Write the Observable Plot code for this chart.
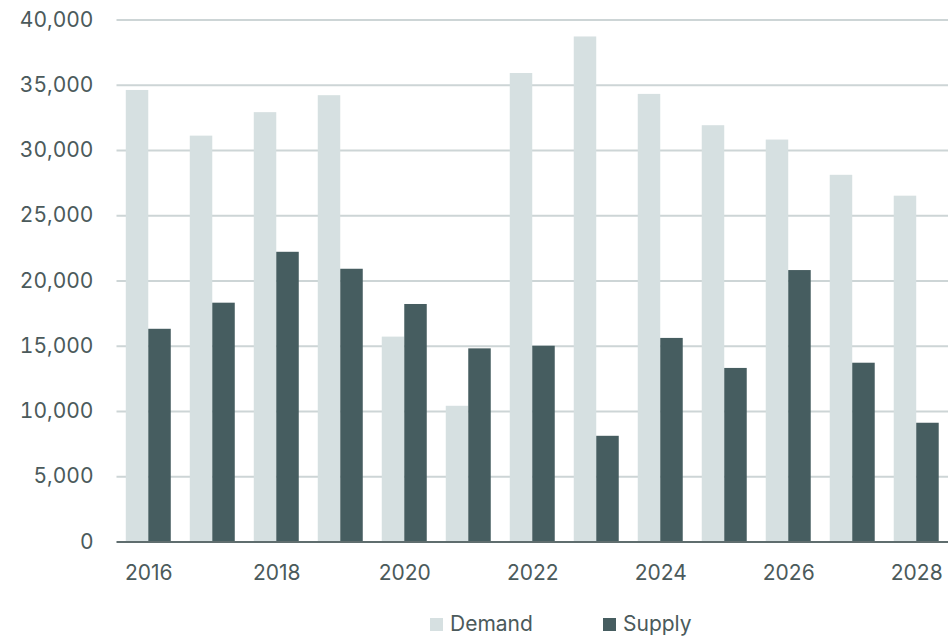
<!DOCTYPE html>
<html>
<head>
<meta charset="utf-8">
<script src="https://cdn.jsdelivr.net/npm/d3@7"></script>
<script src="https://cdn.jsdelivr.net/npm/@observablehq/plot@0.6"></script>
<style>
  html, body { margin: 0; padding: 0; background: #fff; }
  #chart { width: 948px; }
  .legend { display: flex; align-items: center; margin: 14px 0 0 430px; font-family: Inter, "DejaVu Sans", sans-serif; font-size: 21px; color: #4b5a5b; line-height: 24px; }
  .legend .item { display: flex; align-items: center; width: 173px; }
  .legend .sw { width: 13px; height: 13px; margin-right: 7px; }
</style>
</head>
<body>
<div id="chart"></div>
<script>
// Annual demand vs supply, 2016–2028
const years = [2016, 2017, 2018, 2019, 2020, 2021, 2022, 2023, 2024, 2025, 2026, 2027, 2028];
const demand = [34600, 31100, 32900, 34200, 15700, 10400, 35900, 38700, 34300, 31900, 30800, 28100, 26500];
const supply = [16300, 18300, 22200, 20900, 18200, 14800, 15000, 8100, 15600, 13300, 20800, 13700, 9100];
const series = ["Demand", "Supply"];
const colors = ["#d6e0e1", "#465d60"];
const yTicks = [0, 5000, 10000, 15000, 20000, 25000, 30000, 35000, 40000];

const demandRows = years.map((year, i) => ({year, series: "Demand", value: demand[i]}));
const supplyRows = years.map((year, i) => ({year, series: "Supply", value: supply[i]}));

// each year band is 45px wide; the two series share it side by side
const half = 22.5;

const chart = Plot.plot({
  width: 948,
  height: 598,
  marginLeft: 116.5,
  marginRight: 0,
  marginTop: 19.5,
  marginBottom: 56.5,
  style: {fontFamily: "Inter, 'DejaVu Sans', sans-serif", fontSize: "21px", color: "#4b5a5b", background: "#fff"},
  x: {
    type: "band",
    domain: years,
    paddingInner: 0.297,
    paddingOuter: 0.145,
    round: false,
    label: null,
    tickSize: 0,
    tickPadding: 23,
    tickFormat: d => (d % 2 === 0 ? String(d) : "")
  },
  y: {
    domain: [0, 40000],
    ticks: yTicks,
    tickFormat: d3.format(","),
    tickSize: 0,
    tickPadding: 23.5,
    label: null
  },
  color: {domain: series, range: colors},
  marks: [
    Plot.ruleY(yTicks.filter(d => d > 0), {stroke: "#cdd5d6", strokeWidth: 2}),
    Plot.barY(demandRows, {x: "year", y: "value", fill: "series", insetRight: half}),
    Plot.barY(supplyRows, {x: "year", y: "value", fill: "series", insetLeft: half}),
    Plot.ruleY([0], {stroke: "#5f6d6e", strokeWidth: 2})
  ]
});
document.getElementById("chart").append(chart);

// Legend row below the chart
const legend = d3.select("body").append("div").attr("class", "legend");
series.forEach((name, i) => {
  const item = legend.append("div").attr("class", "item");
  item.append("div").attr("class", "sw").style("background", colors[i]);
  item.append("span").text(name);
});
</script>
</body>
</html>
